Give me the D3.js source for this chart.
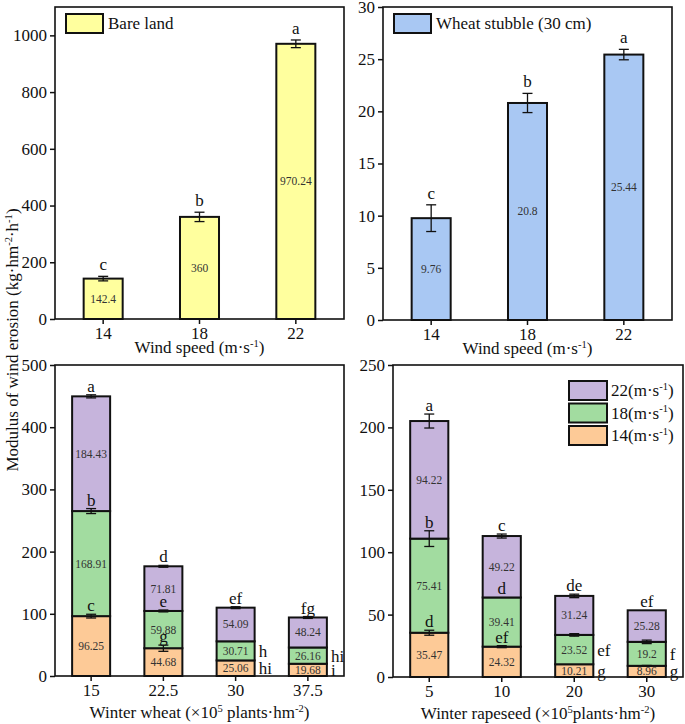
<!DOCTYPE html>
<html><head><meta charset="utf-8">
<script src="https://cdn.jsdelivr.net/npm/d3@7"></script>
<style>body{margin:0;background:#fff}svg{display:block}</style>
</head><body>
<svg id="c" width="685" height="724"></svg>
<script>
// ---------- data ----------
const windCats = ["14", "18", "22"];
const bareValues = [142.4, 360, 970.24];
const bareErrors = [8, 16.5, 13.5];
const bareLetters = ["c", "b", "a"];
const bareTicks = [0, 200, 400, 600, 800, 1000];

const stubbleValues = [9.76, 20.8, 25.44];
const stubbleErrors = [1.28, 0.92, 0.5];
const stubbleLetters = ["c", "b", "a"];
const stubbleTicks = [0, 5, 10, 15, 20, 25, 30];

const seriesKeys = ["14", "18", "22"];

const wheatCats = ["15", "22.5", "30", "37.5"];
const wheat14 = [96.25, 44.68, 25.06, 19.68];
const wheat18 = [168.91, 59.88, 30.71, 26.16];
const wheat22 = [184.43, 71.81, 54.09, 48.24];
const wheatErr14 = [3, 5, 0, 0];
const wheatErr18 = [4, 1.5, 0, 0];
const wheatErr22 = [2.5, 1.5, 1.5, 1.5];
const wheatLet14 = ["c", "g", "hi", "i"];
const wheatLet18 = ["b", "e", "h", "hi"];
const wheatLet22 = ["a", "d", "ef", "fg"];
const wheatTicks = [0, 100, 200, 300, 400, 500];

const rapeCats = ["5", "10", "20", "30"];
const rape14 = [35.47, 24.32, 10.21, 8.96];
const rape18 = [75.41, 39.41, 23.52, 19.2];
const rape22 = [94.22, 49.22, 31.24, 25.28];
const rapeErr14 = [2, 0.8, 0, 0.3];
const rapeErr18 = [6.3, 0, 1, 1.4];
const rapeErr22 = [5.6, 1.6, 1.4, 0];
const rapeLet14 = ["d", "ef", "g", "g"];
const rapeLet18 = ["b", "d", "ef", "f"];
const rapeLet22 = ["a", "c", "de", "ef"];
const rapeTicks = [0, 50, 100, 150, 200, 250];

// ---------- styles ----------
const FONT = "'Liberation Serif','Times New Roman',serif";
const colors = {"14": "#fdca97", "18": "#a2dca0", "22": "#c6b4dc"};
const yellow = "#ffff9e", blue = "#a9c8f3";

const svg = d3.select("#c").style("font-family", FONT);

function richText(g, x, y, parts, size, opts = {}) {
  const t = g.append("text").attr("x", x).attr("y", y)
    .attr("font-size", size).attr("fill", "#111")
    .attr("text-anchor", opts.anchor || "middle");
  if (opts.transform) t.attr("transform", opts.transform);
  let shifted = false;
  parts.forEach(p => {
    const s = t.append("tspan").text(p.t);
    if (p.sup && !shifted) { s.attr("dy", -size * 0.38).attr("font-size", size * 0.62); shifted = true; }
    else if (!p.sup && shifted) { s.attr("dy", size * 0.38); shifted = false; }
  });
  return t;
}

function frameAxes(g, x, y, box, ticks) {
  const ax = g.append("g").attr("transform", `translate(0,${box.y1})`)
    .call(d3.axisBottom(x).tickSize(5).tickSizeOuter(0).tickPadding(3));
  const ay = g.append("g").attr("transform", `translate(${box.x0},0)`)
    .call(d3.axisLeft(y).tickValues(ticks).tickFormat(d3.format("d")).tickSize(5).tickSizeOuter(0).tickPadding(3));
  [ax, ay].forEach(a => {
    a.select(".domain").remove();
    a.selectAll("text").attr("font-size", 17).attr("font-family", FONT).attr("fill", "#111");
    a.selectAll("line").attr("stroke", "#111").attr("stroke-width", 1.5);
  });
  g.append("rect").attr("x", box.x0).attr("y", box.y0)
    .attr("width", box.x1 - box.x0).attr("height", box.y1 - box.y0)
    .attr("fill", "none").attr("stroke", "#111").attr("stroke-width", 1.6);
}

function errBar(g, cx, yTop, yBot) {
  const w = 5;
  g.append("line").attr("x1", cx).attr("x2", cx).attr("y1", yTop).attr("y2", yBot)
    .attr("stroke", "#111").attr("stroke-width", 1.3);
  [yTop, yBot].forEach(yy => g.append("line").attr("x1", cx - w).attr("x2", cx + w)
    .attr("y1", yy).attr("y2", yy).attr("stroke", "#111").attr("stroke-width", 1.3));
}

function simplePanel(box, cats, vals, errs, letters, ymax, ticks, fill, legendText, xTitle) {
  const g = svg.append("g");
  const x = d3.scaleBand().domain(cats).range([box.x0, box.x1]).paddingInner(0.595).paddingOuter(0.2975);
  const y = d3.scaleLinear().domain([0, ymax]).range([box.y1, box.y0]);
  cats.forEach((c, i) => {
    g.append("rect").attr("x", x(c)).attr("y", y(vals[i])).attr("width", x.bandwidth())
      .attr("height", y(0) - y(vals[i])).attr("fill", fill).attr("stroke", "#111").attr("stroke-width", 2);
  });
  cats.forEach((c, i) => {
    const cx = x(c) + x.bandwidth() / 2;
    errBar(g, cx, y(vals[i] + errs[i]), y(vals[i] - errs[i]));
    g.append("text").attr("x", cx).attr("y", y(vals[i] + errs[i]) - 6).attr("text-anchor", "middle")
      .attr("font-size", 17).attr("fill", "#111").text(letters[i]);
    g.append("text").attr("x", cx).attr("y", (y(vals[i]) + y(0)) / 2 + 4).attr("text-anchor", "middle")
      .attr("font-size", 11.5).attr("fill", "#333").text(vals[i]);
  });
  frameAxes(g, x, y, box, ticks);
  // legend
  g.append("rect").attr("x", box.x0 + 11).attr("y", box.y0 + 7).attr("width", 37).attr("height", 19)
    .attr("fill", fill).attr("stroke", "#111").attr("stroke-width", 2);
  g.append("text").attr("x", box.x0 + 53).attr("y", box.y0 + 22).attr("font-size", 17)
    .attr("fill", "#111").text(legendText);
  richText(g, (box.x0 + box.x1) / 2, box.y1 + 34, xTitle, 17);
}

function stackPanel(box, cats, series, errs, letters, rightCats, ymax, ticks, xTitle, legend) {
  const g = svg.append("g");
  const x = d3.scaleBand().domain(cats).range([box.x0, box.x1]).paddingInner(0.474).paddingOuter(0.237);
  const y = d3.scaleLinear().domain([0, ymax]).range([box.y1, box.y0]);
  const rows = cats.map((c, i) => {
    const r = {cat: c};
    seriesKeys.forEach((k, j) => r[k] = series[j][i]);
    return r;
  });
  const stacked = d3.stack().keys(seriesKeys)(rows);
  stacked.forEach(s => {
    s.forEach((d, i) => {
      g.append("rect").attr("x", x(cats[i])).attr("y", y(d[1])).attr("width", x.bandwidth())
        .attr("height", y(d[0]) - y(d[1])).attr("fill", colors[s.key])
        .attr("stroke", "#111").attr("stroke-width", 2);
    });
  });
  stacked.forEach((s, j) => {
    s.forEach((d, i) => {
      const cx = x(cats[i]) + x.bandwidth() / 2;
      const e = errs[j][i];
      if (e > 0) errBar(g, cx, y(d[1] + e), y(d[1] - e));
      g.append("text").attr("x", cx).attr("y", (y(d[0]) + y(d[1])) / 2 + 4).attr("text-anchor", "middle")
        .attr("font-size", 11.5).attr("fill", "#333").text(series[j][i]);
      const isRight = rightCats.includes(cats[i]) && j < 2;
      if (isRight) {
        g.append("text").attr("x", x(cats[i]) + x.bandwidth() + 4)
          .attr("y", (y(d[0]) + y(d[1])) / 2 + 6).attr("font-size", 17).attr("fill", "#111")
          .text(letters[j][i]);
      } else {
        g.append("text").attr("x", cx).attr("y", y(d[1] + e) - 3).attr("text-anchor", "middle")
          .attr("font-size", 17).attr("fill", "#111").text(letters[j][i]);
      }
    });
  });
  frameAxes(g, x, y, box, ticks);
  richText(g, (box.x0 + box.x1) / 2, box.y1 + 42, xTitle, 17);
  if (legend) {
    ["22", "18", "14"].forEach((k, i) => {
      const ly = box.y0 + 16 + i * 22.5;
      g.append("rect").attr("x", 569).attr("y", ly).attr("width", 38).attr("height", 19)
        .attr("fill", colors[k]).attr("stroke", "#111").attr("stroke-width", 2);
      richText(g, 611, ly + 15, [{t: k + "(m·s"}, {t: "-1", sup: true}, {t: ")"}], 17, {anchor: "start"});
    });
  }
}

const windTitle = [{t: "Wind speed (m·s"}, {t: "-1", sup: true}, {t: ")"}];

simplePanel({x0: 55, x1: 344, y0: 7, y1: 319}, windCats, bareValues, bareErrors, bareLetters,
  1100, bareTicks, yellow, "Bare land", windTitle);
simplePanel({x0: 383, x1: 672, y0: 7, y1: 320}, windCats, stubbleValues, stubbleErrors, stubbleLetters,
  30, stubbleTicks, blue, "Wheat stubble (30 cm)", windTitle);

stackPanel({x0: 55, x1: 344, y0: 365, y1: 676}, wheatCats, [wheat14, wheat18, wheat22],
  [wheatErr14, wheatErr18, wheatErr22], [wheatLet14, wheatLet18, wheatLet22], ["30", "37.5"],
  500, wheatTicks, [{t: "Winter wheat (×10"}, {t: "5", sup: true}, {t: " plants·hm"}, {t: "-2", sup: true}, {t: ")"}], false);
stackPanel({x0: 393, x1: 683, y0: 365, y1: 677}, rapeCats, [rape14, rape18, rape22],
  [rapeErr14, rapeErr18, rapeErr22], [rapeLet14, rapeLet18, rapeLet22], ["20", "30"],
  250, rapeTicks, [{t: "Winter rapeseed (×10"}, {t: "5", sup: true}, {t: "plants·hm"}, {t: "-2", sup: true}, {t: ")"}], true);

// shared y title
richText(svg, 0, 0, [{t: "Modulus of wind erosion (kg·hm"}, {t: "-2", sup: true}, {t: "·h"}, {t: "-1", sup: true}, {t: ")"}],
  17, {transform: "translate(18,340) rotate(-90)"});
</script>
</body></html>
